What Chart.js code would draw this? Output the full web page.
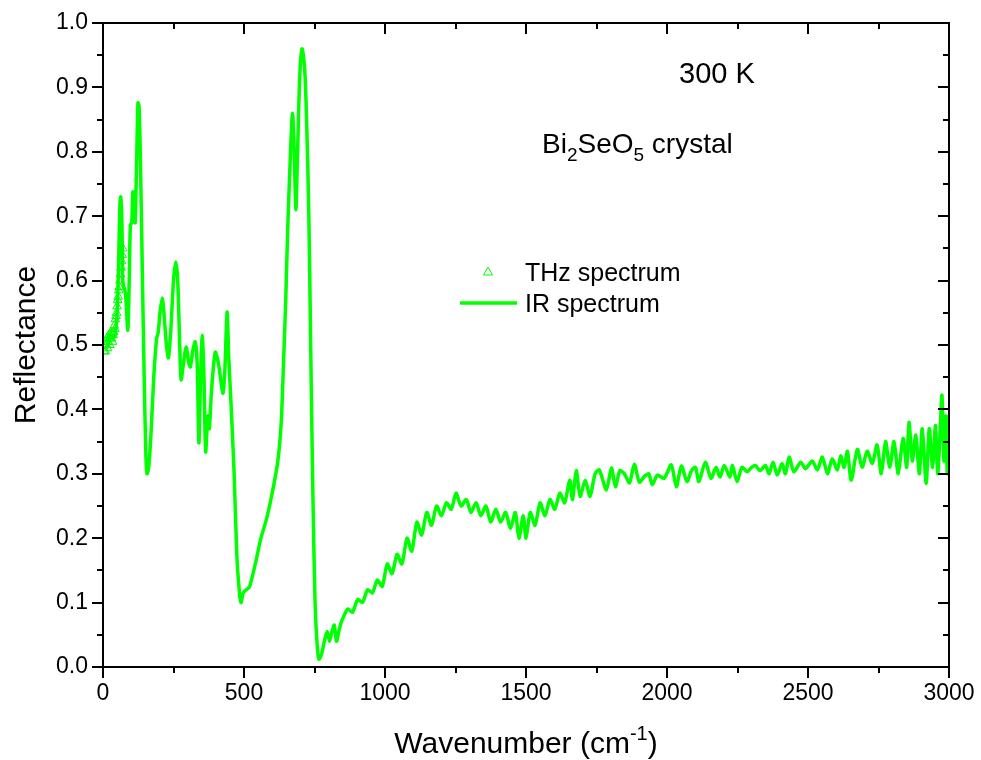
<!DOCTYPE html>
<html>
<head>
<meta charset="utf-8">
<script src="https://cdn.jsdelivr.net/npm/chart.js@4/dist/chart.umd.min.js"></script>
<style>
  body { margin: 0; background: #fff; }
  canvas { display: block; }
</style>
</head>
<body>
<canvas id="reflChart" width="981" height="760"></canvas>
<script>
const lineColor = '#00ff00'
const fontName = '"Liberation Sans", Arial, sans-serif'

// THz spectrum (open triangles)
const waveTHz = [4, 6, 8, 10, 12, 14, 16, 18, 20, 22, 24, 26, 28, 30, 32, 34, 36, 38, 40, 42, 44, 46, 48, 50, 52, 54, 56, 58, 60, 62, 64, 66, 68, 70]
const reflTHz = [0.49, 0.50, 0.49, 0.505, 0.50, 0.51, 0.495, 0.505, 0.515, 0.51, 0.50, 0.515, 0.52, 0.51, 0.52, 0.505, 0.515, 0.52, 0.53, 0.525, 0.54, 0.545, 0.55, 0.56, 0.57, 0.575, 0.585, 0.59, 0.60, 0.61, 0.62, 0.63, 0.64, 0.65]

// IR spectrum (line)
const waveIR = [
  12, 20, 28, 36, 44, 50, 55, 60, 63, 67, 70, 74, 80, 88, 93, 97, 102, 106, 111, 114,
  120, 124, 128, 133, 140, 146, 152, 156, 162, 170, 180, 190, 196, 202, 210, 216, 225, 232, 240, 250,
  258, 265, 272, 277, 285, 295, 305, 310, 318, 327, 334, 340, 346, 352, 358, 364, 372, 377, 385, 398,
  410, 425, 432, 440, 446, 455, 465, 475, 485, 490, 497, 508, 520, 540, 560, 580, 600, 620, 632, 640,
  648, 655, 665, 672, 678, 684, 690, 698, 706, 715, 722, 730, 738, 745, 752, 760, 766, 775, 785, 795,
  803, 812, 820, 828, 836, 845, 850, 868, 885, 903, 920, 938, 955, 973, 990, 1008, 1025, 1043, 1060, 1078,
  1095, 1113, 1130, 1148, 1165, 1183, 1200, 1218, 1235, 1252, 1270, 1288, 1305, 1323, 1340, 1358, 1375, 1393, 1410, 1428,
  1445, 1462, 1475, 1490, 1500, 1515, 1532, 1550, 1567, 1585, 1602, 1620, 1637, 1655, 1665, 1678, 1692, 1710, 1727, 1745,
  1760, 1785, 1803, 1817, 1833, 1849, 1867, 1884, 1902, 1920, 1935, 1948, 1966, 1990, 2015, 2033, 2051, 2071, 2087, 2101,
  2113, 2136, 2156, 2174, 2188, 2203, 2223, 2232, 2248, 2266, 2284, 2300, 2313, 2330, 2349, 2362, 2376, 2391, 2408, 2420,
  2433, 2450, 2474, 2491, 2515, 2533, 2551, 2569, 2586, 2604, 2616, 2628, 2640, 2653, 2675, 2692, 2710, 2728, 2745, 2760,
  2775, 2790, 2805, 2820, 2837, 2850, 2858, 2870, 2882, 2895, 2905, 2919, 2930, 2942, 2952, 2960, 2968, 2975, 2982, 2988,
  2994, 3000
]
const reflIR = [
  0.495, 0.505, 0.515, 0.51, 0.52, 0.55, 0.62, 0.72, 0.73, 0.69, 0.60, 0.59, 0.58, 0.523, 0.60, 0.686, 0.69, 0.738, 0.735, 0.69,
  0.80, 0.876, 0.87, 0.78, 0.60, 0.45, 0.33, 0.30, 0.31, 0.36, 0.45, 0.51, 0.52, 0.55, 0.573, 0.55, 0.50, 0.48, 0.52, 0.60,
  0.629, 0.60, 0.50, 0.446, 0.47, 0.497, 0.47, 0.466, 0.49, 0.505, 0.47, 0.348, 0.45, 0.515, 0.45, 0.334, 0.39, 0.37, 0.43, 0.489,
  0.47, 0.425, 0.46, 0.551, 0.48, 0.40, 0.30, 0.17, 0.11, 0.10, 0.115, 0.12, 0.125, 0.16, 0.20, 0.23, 0.27, 0.32, 0.38, 0.47,
  0.57, 0.68, 0.80, 0.86, 0.80, 0.71, 0.80, 0.92, 0.96, 0.93, 0.85, 0.70, 0.45, 0.25, 0.10, 0.03, 0.012, 0.02, 0.04, 0.055,
  0.04, 0.055, 0.065, 0.04, 0.055, 0.07, 0.075, 0.09, 0.085, 0.105, 0.10, 0.12, 0.115, 0.135, 0.125, 0.16, 0.145, 0.175, 0.16, 0.20,
  0.18, 0.225, 0.205, 0.24, 0.22, 0.25, 0.235, 0.255, 0.245, 0.27, 0.25, 0.26, 0.24, 0.255, 0.235, 0.25, 0.225, 0.245, 0.225, 0.24,
  0.215, 0.24, 0.20, 0.235, 0.20, 0.24, 0.22, 0.255, 0.235, 0.26, 0.245, 0.27, 0.255, 0.29, 0.26, 0.305, 0.265, 0.29, 0.265, 0.30,
  0.306, 0.275, 0.309, 0.28, 0.305, 0.30, 0.286, 0.315, 0.287, 0.296, 0.30, 0.283, 0.298, 0.293, 0.314, 0.28, 0.312, 0.288, 0.305, 0.31,
  0.288, 0.318, 0.293, 0.31, 0.295, 0.313, 0.295, 0.313, 0.288, 0.31, 0.303, 0.31, 0.313, 0.305, 0.313, 0.30, 0.318, 0.298, 0.316, 0.30,
  0.326, 0.303, 0.318, 0.308, 0.32, 0.306, 0.326, 0.30, 0.323, 0.306, 0.328, 0.31, 0.335, 0.29, 0.338, 0.31, 0.335, 0.316, 0.345, 0.30,
  0.35, 0.31, 0.35, 0.30, 0.355, 0.31, 0.38, 0.32, 0.36, 0.30, 0.37, 0.285, 0.37, 0.31, 0.375, 0.30, 0.36, 0.422, 0.32, 0.39,
  0.30, 0.39
]

const xMin = 0, xMax = 3000, xMajor = 500, xMinor = 250
const yMin = 0, yMax = 1, yMajor = 0.1, yMinor = 0.05

function toPoints(xs, ys) {
  var pts = []
  for (var i = 0; i < xs.length; i++) {
    pts.push({ x: xs[i], y: ys[i] })
  }
  return pts
}

// draw text with sub/superscript parts: [text, 'n' | 'sub' | 'sup']
function richWidth(ctx, parts, size) {
  var w = 0
  parts.forEach(function (p) {
    ctx.font = (p[1] === 'n' ? size : Math.round(size * 0.68)) + 'px ' + fontName
    w += ctx.measureText(p[0]).width
  })
  return w
}

function drawRich(ctx, parts, x, y, size) {
  ctx.textAlign = 'left'
  ctx.textBaseline = 'alphabetic'
  parts.forEach(function (p) {
    var s = p[1] === 'n' ? size : Math.round(size * 0.68)
    var dy = p[1] === 'sub' ? size * 0.3 : (p[1] === 'sup' ? -size * 0.42 : 0)
    ctx.font = s + 'px ' + fontName
    ctx.fillText(p[0], x, y + dy)
    x += ctx.measureText(p[0]).width
  })
}

const framePlugin = {
  id: 'framePlugin',
  afterDraw: function (chart) {
    var ctx = chart.ctx
    var a = chart.chartArea
    var xs = chart.scales.x
    var ys = chart.scales.y
    ctx.save()
    ctx.strokeStyle = '#000'
    ctx.fillStyle = '#000'
    ctx.lineWidth = 2
    ctx.strokeRect(a.left, a.top, a.right - a.left, a.bottom - a.top)

    // ticks: outward on bottom/left, inward on top/right
    ctx.beginPath()
    for (var v = xMin; v <= xMax + 0.001; v += xMinor) {
      var px = Math.round(xs.getPixelForValue(v))
      var len = (v % xMajor === 0) ? 11 : 6
      ctx.moveTo(px, a.bottom); ctx.lineTo(px, a.bottom + len)
      ctx.moveTo(px, a.top); ctx.lineTo(px, a.top + len)
    }
    for (var k = 0; k <= 20; k++) {
      var yv = yMin + k * yMinor
      var py = Math.round(ys.getPixelForValue(yv))
      var ln = (k % 2 === 0) ? 11 : 6
      ctx.moveTo(a.left, py); ctx.lineTo(a.left - ln, py)
      ctx.moveTo(a.right, py); ctx.lineTo(a.right - ln, py)
    }
    ctx.stroke()

    // axis titles
    var tSize = 30
    var xt = [['Wavenumber (cm', 'n'], ['-1', 'sup'], [')', 'n']]
    var w = richWidth(ctx, xt, tSize)
    drawRich(ctx, xt, (a.left + a.right) / 2 - w / 2, 753, tSize)

    ctx.save()
    ctx.translate(35, (a.top + a.bottom) / 2)
    ctx.rotate(-Math.PI / 2)
    ctx.font = tSize + 'px ' + fontName
    ctx.textAlign = 'center'
    ctx.textBaseline = 'alphabetic'
    ctx.fillText('Reflectance', 0, 0)
    ctx.restore()

    // annotations
    drawRich(ctx, [['300 K', 'n']], 679, 83, 29)
    drawRich(ctx, [['Bi', 'n'], ['2', 'sub'], ['SeO', 'n'], ['5', 'sub'], [' crystal', 'n']], 542, 153, 28)

    // legend
    ctx.strokeStyle = lineColor
    ctx.lineWidth = 1
    ctx.beginPath()
    ctx.moveTo(488, 267); ctx.lineTo(492.5, 275); ctx.lineTo(483.5, 275); ctx.closePath()
    ctx.stroke()
    ctx.lineWidth = 3.5
    ctx.beginPath()
    ctx.moveTo(460, 303); ctx.lineTo(517, 303)
    ctx.stroke()
    ctx.fillStyle = '#000'
    drawRich(ctx, [['THz spectrum', 'n']], 525, 281, 25)
    drawRich(ctx, [['IR spectrum', 'n']], 525, 312, 25)
    ctx.restore()
  }
}

var ctx = document.getElementById('reflChart')
var reflChart = new Chart(ctx, {
  type: 'scatter',
  data: {
    datasets: [{
      label: 'THz spectrum',
      data: toPoints(waveTHz, reflTHz),
      showLine: false,
      pointStyle: 'triangle',
      pointRadius: 5,
      borderWidth: 1,
      borderColor: lineColor,
      backgroundColor: 'rgba(0,0,0,0)',
    }, {
      label: 'IR spectrum',
      data: toPoints(waveIR, reflIR),
      showLine: true,
      pointRadius: 0,
      borderWidth: 3.5,
      borderColor: lineColor,
      backgroundColor: lineColor,
      borderJoinStyle: 'round',
      borderCapStyle: 'round',
      tension: 0.25,
    }]
  },
  options: {
    responsive: false,
    animation: false,
    layout: { padding: { top: 23, right: 32, left: 0, bottom: 0 } },
    plugins: {
      legend: { display: false },
      tooltip: { enabled: false },
    },
    scales: {
      x: {
        type: 'linear',
        min: xMin,
        max: xMax,
        afterFit: function (s) {
          s.height = 93
          s.paddingLeft = 0
          s.paddingRight = 0
        },
        grid: { display: false, drawTicks: false },
        border: { display: false },
        ticks: {
          stepSize: xMajor,
          padding: 13,
          color: '#000',
          font: { family: fontName, size: 23 },
          maxRotation: 0,
          callback: function (v) { return String(v) },
        },
      },
      y: {
        min: yMin,
        max: yMax,
        afterFit: function (s) {
          s.width = 103
          s.paddingTop = 0
          s.paddingBottom = 0
        },
        grid: { display: false, drawTicks: false },
        border: { display: false },
        ticks: {
          stepSize: yMajor,
          padding: 15,
          color: '#000',
          font: { family: fontName, size: 23 },
          callback: function (v) { return Number(v).toFixed(1) },
        },
      },
    },
  },
  plugins: [framePlugin],
})
</script>
</body>
</html>
